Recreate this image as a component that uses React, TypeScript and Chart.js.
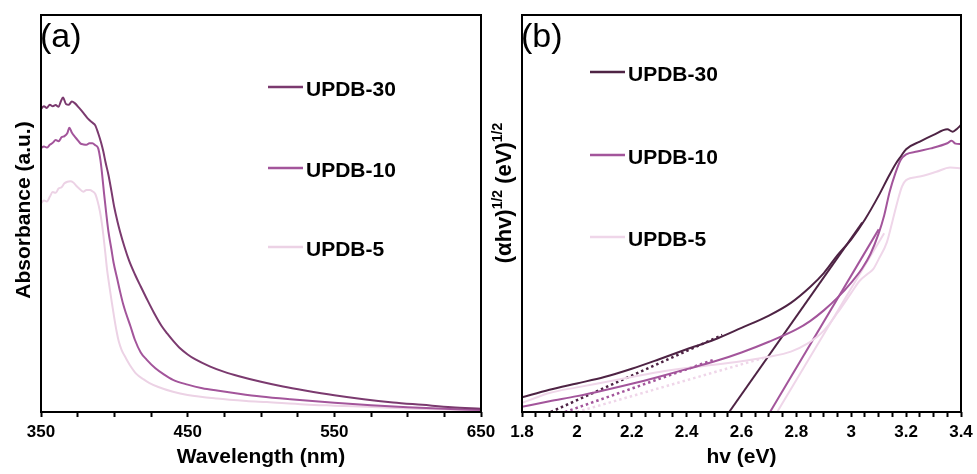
import React, { useEffect, useRef } from 'react';
import { Chart, registerables } from 'chart.js';

Chart.register(...registerables);

type P = [number, number];

const FONT = 'Arial, "Liberation Sans", Helvetica, sans-serif';

// ---------- data ----------
const seriesNames = ['UPDB-30', 'UPDB-10', 'UPDB-5'];
const absColors = ['#7b3a6f', '#a3559b', '#ecd2e5'];
const taucColors = ['#4e2344', '#a3559b', '#efd6e9'];

const wavelengthTickLabels = [350, 450, 550, 650];
const energyTickLabels = [1.8, 2, 2.2, 2.4, 2.6, 2.8, 3, 3.2, 3.4];

// (a) absorbance vs wavelength (nm), arbitrary units
const abs30: P[] = [
  [350, 76.3], [352, 77.0], [354, 76.6], [356, 77.4], [358, 77.0], [360, 77.3], [362, 76.9],
  [363.5, 78.2], [365, 79.2], [367, 77.6], [369, 77.4], [371, 78.2], [373, 77.8], [376, 76.6],
  [379, 75.3], [382, 73.9], [385, 72.9], [387, 72.2], [389, 70.2], [391, 67.8], [392.5, 65.6],
  [394, 62.9], [396, 59.7], [398, 55.7], [400, 51.5], [402, 48.2], [404, 45.3], [407, 41.5],
  [410, 38.2], [414, 34.7], [418, 31.6], [422, 28.6], [427, 25], [432, 21.8], [436, 19.8],
  [440, 18], [445, 16], [450, 14.5], [455, 13.3], [465, 11.5], [475, 10.1], [485, 9],
  [500, 7.6], [515, 6.4], [530, 5.4], [550, 4.2], [570, 3.2], [590, 2.4], [610, 1.8],
  [630, 1.2], [650, 0.8],
];
const abs10: P[] = [
  [350, 66.5], [352, 66.9], [354, 66.6], [356, 67.3], [358, 67.8], [360, 68.5], [362, 68.2],
  [364, 69.2], [366, 69.5], [368, 70.3], [369.3, 71.6], [371, 70.4], [372.5, 69.6], [375, 68.5],
  [377, 67.6], [379, 67.4], [381, 67.3], [383, 67.7], [385, 67.7], [387, 67.2], [389, 66.4],
  [390.5, 63.5], [391.5, 60.5], [393, 55], [394.5, 50], [396, 45.4], [398, 41], [399.5, 37.6],
  [402, 33.5], [404, 30.2], [406, 27.2], [408, 24.8], [411, 21.6], [414, 18.2], [418, 15],
  [422, 13.2], [428, 11], [434, 9.4], [440, 8.1], [450, 6.9], [460, 6], [470, 5.4],
  [485, 4.6], [500, 3.9], [520, 3.2], [550, 2.3], [575, 1.7], [600, 1.2], [625, 0.8], [650, 0.5],
];
const abs5: P[] = [
  [350, 52.5], [352, 53.3], [354, 53.0], [356, 54.2], [358, 55.4], [360, 55.2], [362, 56.3],
  [364, 56.6], [366, 57.6], [368, 58], [370, 58.1], [372, 57.8], [374, 57], [376, 56.3],
  [378.8, 55.5], [381, 55.9], [383.4, 55.9], [385, 55.6], [387, 54.9], [388.5, 53.2],
  [390.2, 50.5], [391.5, 47.5], [392.5, 44.6], [394, 39.5], [395, 36], [396.5, 32],
  [398.2, 27.8], [400, 23.6], [401.6, 20.2], [403, 17.8], [405, 15.6], [408, 13.5],
  [411, 11.6], [415, 9.6], [420, 8.2], [424, 7.3], [430, 6.3], [440, 5.1], [450, 4.3],
  [470, 3.4], [490, 2.8], [504, 2.5], [530, 1.9], [550, 1.6], [572, 1.3], [600, 0.9],
  [625, 0.6], [650, 0.3],
];

// (b) Tauc plot: (αhv)^1/2 vs hv (eV)
const tauc30: P[] = [
  [1.8, 3.7], [1.9, 5.6], [2.0, 7.2], [2.1, 8.8], [2.2, 10.9], [2.3, 13.3], [2.4, 15.8],
  [2.5, 18.2], [2.6, 21.2], [2.7, 24.3], [2.78, 27.5], [2.85, 31.5], [2.9, 35], [2.95, 39.5],
  [3.0, 43.5], [3.05, 48.5], [3.1, 54.5], [3.13, 58.5], [3.16, 62.3], [3.18, 64.3],
  [3.2, 66.2], [3.25, 68.1], [3.3, 69.8], [3.35, 71.2], [3.37, 70.6], [3.385, 71.3], [3.4, 72.3],
];
const tauc10: P[] = [
  [1.8, 1.3], [1.9, 2.7], [2.0, 4.0], [2.1, 5.5], [2.2, 7.1], [2.3, 8.9], [2.4, 10.8],
  [2.5, 12.7], [2.6, 15.0], [2.7, 17.7], [2.8, 20.8], [2.85, 22.9], [2.9, 25.6], [2.95, 28.8],
  [3.0, 32.6], [3.04, 36.2], [3.07, 39.8], [3.1, 45], [3.12, 49.5], [3.14, 55.5],
  [3.16, 60], [3.18, 63.5], [3.2, 64.9], [3.24, 65.6], [3.29, 66.4], [3.35, 67.7],
  [3.366, 68.3], [3.38, 67.6], [3.4, 67.5],
];
const tauc5: P[] = [
  [1.8, 2.3], [1.85, 3.6], [1.9, 4.8], [2.0, 6.2], [2.1, 7.5], [2.2, 8.8], [2.3, 10.1],
  [2.4, 11.1], [2.5, 11.9], [2.6, 12.8], [2.7, 13.9], [2.78, 15.2], [2.84, 17.2], [2.9, 20.5],
  [2.95, 25], [3.0, 30], [3.03, 33], [3.06, 34.8], [3.08, 36], [3.1, 38.5], [3.13, 42.8],
  [3.15, 48], [3.17, 53.4], [3.185, 56.8], [3.2, 58.4], [3.25, 59.3], [3.31, 60.5],
  [3.36, 61.6], [3.4, 61.4],
];
// band-edge tangents (solid) and baseline tangents (dotted)
const edgeFit30: P[] = [[2.555, 0], [3.04, 47.7]];
const edgeFit10: P[] = [[2.704, 0], [3.1, 46]];
const edgeFit5: P[] = [[2.73, 0], [3.12, 45]];
const baseFit30: P[] = [[1.905, 0], [2.53, 19.4]];
const baseFit10: P[] = [[1.957, 0], [2.5, 13.2]];
const baseFit5: P[] = [[2.0, 0], [2.68, 13.6]];

// ---------- helpers ----------
const toXY = (pts: P[]) => pts.map(([x, y]) => ({ x, y }));

const curve = (label: string, pts: P[], color: string) => ({
  label,
  data: toXY(pts),
  showLine: true,
  borderColor: color,
  backgroundColor: color,
  borderWidth: 2,
  pointRadius: 0,
  cubicInterpolationMode: 'monotone',
  fill: false,
});

const fitLine = (label: string, pts: P[], color: string, dotted: boolean) => ({
  label,
  data: toXY(pts),
  showLine: true,
  borderColor: color,
  backgroundColor: color,
  borderWidth: dotted ? 2.5 : 2,
  pointRadius: 0,
  borderDash: dotted ? [2.5, 3] : [],
  fill: false,
});

const decorPlugin = {
  id: 'decor',
  afterDraw(chart: any, _args: any, opts: any) {
    const { ctx, chartArea: a } = chart;
    ctx.save();
    // frame
    ctx.strokeStyle = '#000';
    ctx.lineWidth = 2;
    ctx.setLineDash([]);
    ctx.strokeRect(a.left, a.top, a.right - a.left, a.bottom - a.top);

    // panel label
    ctx.fillStyle = '#000';
    ctx.font = `34px ${FONT}`;
    ctx.textAlign = 'left';
    ctx.textBaseline = 'alphabetic';
    ctx.fillText(opts.label, a.left - 1, a.top + 32);

    // legend
    opts.names.forEach((name: string, i: number) => {
      const y = a.top + opts.legendY[i];
      const x0 = a.left + opts.legendX;
      ctx.strokeStyle = opts.colors[i];
      ctx.lineWidth = 2.5;
      ctx.beginPath();
      ctx.moveTo(x0, y);
      ctx.lineTo(x0 + 35, y);
      ctx.stroke();
      ctx.fillStyle = '#000';
      ctx.font = `bold 21px ${FONT}`;
      ctx.textAlign = 'left';
      ctx.textBaseline = 'alphabetic';
      ctx.fillText(name, x0 + 38, y + 8.8);
    });

    // y title (rotated, with optional superscripts)
    const parts: { t: string; sup?: boolean }[] = opts.yTitle;
    const mainFont = `bold ${opts.yTitleSize}px ${FONT}`;
    const supFont = `bold 14px ${FONT}`;
    let total = 0;
    const widths = parts.map((p) => {
      ctx.font = p.sup ? supFont : mainFont;
      const w = ctx.measureText(p.t).width;
      total += w;
      return w;
    });
    ctx.translate(a.left - 19, opts.yTitleCenter);
    ctx.rotate(-Math.PI / 2);
    ctx.fillStyle = '#000';
    ctx.textAlign = 'left';
    ctx.textBaseline = 'alphabetic';
    let cx = -total / 2;
    parts.forEach((p, i) => {
      ctx.font = p.sup ? supFont : mainFont;
      ctx.fillText(p.t, cx, p.sup ? -1 : 7.5);
      cx += widths[i];
    });
    ctx.restore();
  },
};

const xAxis = (min: number, max: number, step: number, title: string, isLabel: (v: number) => boolean, fmt: (v: number) => string) => ({
  type: 'linear',
  min,
  max,
  ticks: {
    stepSize: step,
    autoSkip: false,
    maxRotation: 0,
    minRotation: 0,
    padding: 5,
    color: '#000',
    font: { family: FONT, size: 17, weight: 'bold' },
    callback: (v: any) => (isLabel(Number(v)) ? fmt(Number(v)) : ''),
  },
  grid: {
    display: true,
    drawOnChartArea: false,
    drawTicks: true,
    tickLength: 5,
    tickWidth: 2,
    tickColor: '#000',
  },
  border: { display: false },
  title: {
    display: true,
    text: title,
    color: '#000',
    font: { family: FONT, size: 21, weight: 'bold' },
    padding: { top: 4, bottom: 4 },
  },
  afterFit: (s: any) => {
    s.height = 62;
    s.paddingLeft = 0;
    s.paddingRight = 0;
  },
});

const yAxis = { type: 'linear', min: 0, max: 100, display: false };

export default function App() {
  const leftRef = useRef<HTMLCanvasElement>(null);
  const rightRef = useRef<HTMLCanvasElement>(null);

  useEffect(() => {
    const absSeries = [abs30, abs10, abs5];
    const left = new Chart(leftRef.current as HTMLCanvasElement, {
      type: 'scatter',
      data: {
        datasets: absSeries.map((s, i) => curve(seriesNames[i], s, absColors[i])) as any,
      },
      options: {
        responsive: false,
        animation: false,
        devicePixelRatio: 1,
        layout: { padding: { left: 41, right: 29, top: 15, bottom: 0 } },
        plugins: {
          legend: { display: false },
          tooltip: { enabled: false },
          decor: {
            label: '(a)',
            names: seriesNames,
            colors: absColors,
            legendX: 227,
            legendY: [72, 153, 232],
            yTitle: [{ t: 'Absorbance (a.u.)' }],
            yTitleSize: 21,
            yTitleCenter: 210,
          },
        } as any,
        scales: {
          x: xAxis(350, 650, 25, 'Wavelength (nm)',
            (v) => wavelengthTickLabels.some((t) => Math.abs(t - v) < 1e-6),
            (v) => String(Math.round(v))) as any,
          y: yAxis as any,
        },
      },
      plugins: [decorPlugin],
    });

    const taucSeries = [tauc30, tauc10, tauc5];
    const edgeFits = [edgeFit30, edgeFit10, edgeFit5];
    const baseFits = [baseFit30, baseFit10, baseFit5];
    const right = new Chart(rightRef.current as HTMLCanvasElement, {
      type: 'scatter',
      data: {
        datasets: [
          ...taucSeries.map((s, i) => curve(seriesNames[i], s, taucColors[i])),
          ...edgeFits.map((s, i) => fitLine(seriesNames[i] + ' edge fit', s, taucColors[i], false)),
          ...baseFits.map((s, i) => fitLine(seriesNames[i] + ' baseline fit', s, taucColors[i], true)),
        ] as any,
      },
      options: {
        responsive: false,
        animation: false,
        devicePixelRatio: 1,
        layout: { padding: { left: 32, right: 16, top: 15, bottom: 0 } },
        plugins: {
          legend: { display: false },
          tooltip: { enabled: false },
          decor: {
            label: '(b)',
            names: seriesNames,
            colors: taucColors,
            legendX: 68,
            legendY: [57, 140, 222],
            yTitle: [{ t: '(αhv)' }, { t: '1/2', sup: true }, { t: ' (eV)' }, { t: '1/2', sup: true }],
            yTitleSize: 22,
            yTitleCenter: 193,
          },
        } as any,
        scales: {
          x: xAxis(1.8, 3.4, 0.05, 'hv (eV)',
            (v) => energyTickLabels.some((t) => Math.abs(t - v) < 1e-6),
            (v) => String(Math.round(v * 10) / 10)) as any,
          y: yAxis as any,
        },
      },
      plugins: [decorPlugin],
    });

    return () => {
      left.destroy();
      right.destroy();
    };
  }, []);

  return (
    <div style={{ position: 'fixed', left: 0, top: 0, width: 977, height: 474, background: '#fff' }}>
      <canvas ref={leftRef} width={510} height={474}
        style={{ position: 'absolute', left: 0, top: 0, width: 510, height: 474 }} />
      <canvas ref={rightRef} width={487} height={474}
        style={{ position: 'absolute', left: 490, top: 0, width: 487, height: 474 }} />
    </div>
  );
}
